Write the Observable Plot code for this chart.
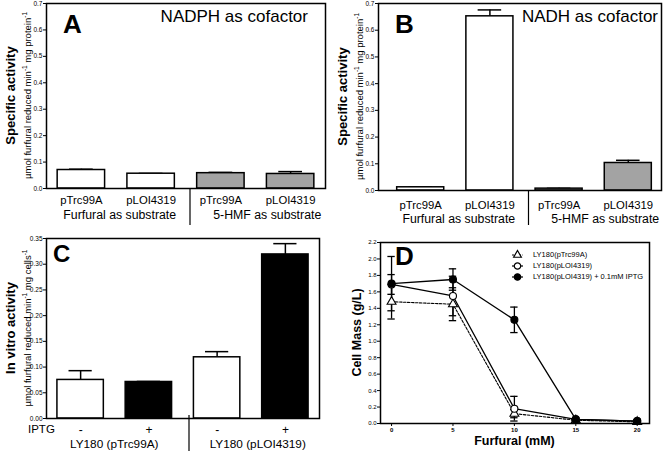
<!DOCTYPE html>
<html><head><meta charset="utf-8">
<script src="https://cdn.jsdelivr.net/npm/d3@7"></script>
<script src="https://cdn.jsdelivr.net/npm/@observablehq/plot@0.6"></script>
<style>
body{margin:0;background:#fff;}
#wrap{position:relative;width:664px;height:451px;overflow:hidden;background:#fff;}
.panel{position:absolute;}
.panel svg{overflow:visible;display:block;}
</style></head><body><div id="wrap"></div>
<script>
const FONT = '"Liberation Sans", Arial, Helvetica, sans-serif';

// ---------- Panels A & B ----------
const abCategories = ["pTrc99A", "pLOI4319", "pTrc99A", "pLOI4319"];
const abSubstrate = ["Furfural", "Furfural", "5-HMF", "5-HMF"];
const abGroupLabels = ["Furfural as substrate", "5-HMF as substrate"];
const abYTicks = [0, 0.1, 0.2, 0.3, 0.4, 0.5, 0.6, 0.7];
const aValues = [0.070, 0.056, 0.058, 0.055];
const aErrors = [0.003, 0.001, 0.003, 0.009];
const bValues = [0.012, 0.652, 0.007, 0.103];
const bErrors = [0.001, 0.024, 0.001, 0.010];
const aCofactor = "NADPH as cofactor";
const bCofactor = "NADH as cofactor";

// ---------- Panel C ----------
const cIPTG = ["-", "+", "-", "+"];
const cGroupLabels = ["LY180 (pTrc99A)", "LY180 (pLOI4319)"];
const cYTicks = [0, 0.05, 0.10, 0.15, 0.20, 0.25, 0.30, 0.35];
const cValues = [0.075, 0.071, 0.119, 0.319];
const cErrors = [0.018, 0.001, 0.011, 0.021];

// ---------- Panel D ----------
const dFurfural = [0, 5, 10, 15, 20];
const dSeries = ["LY180(pTrc99A)", "LY180(pLOI4319)", "LY180(pLOI4319) + 0.1mM IPTG"];
const dTrcMean = [1.48, 1.45, 0.12, 0.04, 0.02];
const dTrcErr  = [0.21, 0.20, 0.05, 0.01, 0.01];
const dLoiMean = [1.69, 1.55, 0.18, 0.05, 0.03];
const dLoiErr  = [0.12, 0.24, 0.15, 0.01, 0.01];
const dIptgMean = [1.70, 1.75, 1.26, 0.05, 0.03];
const dIptgErr  = [0.33, 0.13, 0.155, 0.01, 0.01];
const dYTicks = [0, 0.2, 0.4, 0.6, 0.8, 1.0, 1.2, 1.4, 1.6, 1.8, 2.0, 2.2];

const wrap = document.getElementById("wrap");
function place(node, left, top) {
  const div = document.createElement("div");
  div.className = "panel";
  div.style.left = left + "px";
  div.style.top = top + "px";
  div.appendChild(node);
  wrap.appendChild(div);
}
function txt(sel, x, y, s, o = {}) {
  const t = sel.append("text")
    .attr("x", x).attr("y", y)
    .attr("font-family", FONT)
    .attr("font-size", o.size || 12)
    .attr("font-weight", o.weight || "normal")
    .attr("text-anchor", o.anchor || "start")
    .attr("fill", "black");
  if (o.baseline) t.attr("dominant-baseline", o.baseline);
  t.text(s);
  return t;
}
function yTitle(svg, cy, bx, sx, bold, parts, boldSize) {
  const g = svg.append("g").attr("transform", `translate(${bx},${cy}) rotate(-90)`);
  txt(g, 0, 0, bold, {size: boldSize || 13, weight: "bold", anchor: "middle"});
  if (parts) {
    const g2 = svg.append("g").attr("transform", `translate(${sx},${cy}) rotate(-90)`);
    const t = g2.append("text").attr("text-anchor", "middle").attr("font-family", FONT)
      .attr("font-size", 9.5).attr("fill", "black");
    parts.forEach(p => {
      if (p.sup) t.append("tspan").attr("font-size", 6.5).attr("dy", -4).text(p.t);
      else t.append("tspan").attr("dy", p.after ? 4 : 0).text(p.t);
    });
  }
}

function barPanel(o) {
  const data = o.values.map((v, i) => ({i, v, e: o.errors[i]}));
  const half = 0.34, cap = 0.17;
  return Plot.plot({
    width: 332, height: o.height,
    marginLeft: o.m[3], marginRight: o.m[1], marginTop: o.m[0], marginBottom: o.m[2],
    style: {fontFamily: FONT, background: "transparent", overflow: "visible", color: "black"},
    x: {domain: o.xDomain},
    y: {domain: o.yDomain},
    marks: [
      Plot.ruleX(data, {x: "i", y1: "v", y2: d => d.v + d.e, stroke: "black", strokeWidth: 1.5}),
      Plot.ruleY(data, {y: d => d.v + d.e, x1: d => d.i - cap, x2: d => d.i + cap, stroke: "black", strokeWidth: 1.5}),
      Plot.rect(data, {x1: d => d.i - half, x2: d => d.i + half, y1: 0, y2: "v",
        fill: d => o.fillOf(d.i), stroke: "black", strokeWidth: 1.5}),
      Plot.axisY({ticks: o.yTicks, tickFormat: d3.format(o.yFmt), tickSize: 3, tickPadding: 1, fontSize: 6.5, label: null}),
      Plot.axisX({ticks: o.labels.map((_, i) => i), tickFormat: i => o.labels[i], tickSize: 0,
        tickPadding: o.xPad, fontSize: o.xFont, label: null}),
      Plot.frame({stroke: "black", strokeWidth: 1.5})
    ]
  });
}

const abFill = i => abSubstrate[i] === "Furfural" ? "white" : "#a3a3a3";
const specParts = [{t: "µmol furfural reduced min"}, {t: "-1", sup: true}, {t: " mg protein", after: true}, {t: "-1", sup: true}];

function abDecorate(plot, letter, cofactor, cofX, sepOffset, grpY) {
  const svg = d3.select(plot);
  const sx = plot.scale("x"), sy = plot.scale("y");
  const yr = sy.range;
  yTitle(svg, (yr[0] + yr[1]) / 2, 15, 31, "Specific activity", specParts);
  txt(svg, 63, 33, letter, {size: 26, weight: "bold"});
  txt(svg, cofX, 22, cofactor, {size: 17, anchor: "end"});
  const xs = sx.apply(1.5) + sepOffset;
  svg.append("line").attr("x1", xs).attr("x2", xs).attr("y1", yr[0]).attr("y2", 225)
    .attr("stroke", "black").attr("stroke-width", 1.2);
  txt(svg, sx.apply(0.5) + 4, grpY, abGroupLabels[0], {size: 12.3, anchor: "middle"});
  txt(svg, sx.apply(2.5) + 12, grpY, abGroupLabels[1], {size: 12.3, anchor: "middle"});
}

// Panel A
const pA = barPanel({values: aValues, errors: aErrors, labels: abCategories, fillOf: abFill,
  xDomain: [-0.5, 3.5], yDomain: [0, 0.7], yTicks: abYTicks, yFmt: ".1f",
  height: 225, m: [3, 7, 37, 46], xPad: 7, xFont: 11.3});
abDecorate(pA, "A", aCofactor, 308, 4.5, 219);
place(pA, 0, 0);

// Panel B
const pB = barPanel({values: bValues, errors: bErrors, labels: abCategories, fillOf: abFill,
  xDomain: [-0.61, 3.48], yDomain: [0, 0.7], yTicks: abYTicks, yFmt: ".1f",
  height: 225, m: [3, 3, 35, 46], xPad: 10, xFont: 11.3});
abDecorate(pB, "B", bCofactor, 326, 4.5, 223);
place(pB, 332, 0);

// Panel C
const cFill = i => cIPTG[i] === "-" ? "white" : "black";
const pC = barPanel({values: cValues, errors: cErrors, labels: cIPTG, fillOf: cFill,
  xDomain: [-0.5, 3.5], yDomain: [0, 0.35], yTicks: cYTicks, yFmt: ".2f",
  height: 226, m: [13, 13, 33, 46], xPad: 6.5, xFont: 12});
{
  const svg = d3.select(pC);
  const sx = pC.scale("x"), sy = pC.scale("y");
  const yr = sy.range;
  yTitle(svg, (yr[0] + yr[1]) / 2, 15, 31, "In vitro activity",
    [{t: "µmol furfural reduced min"}, {t: "-1", sup: true}, {t: " mg cells", after: true}, {t: "-1", sup: true}]);
  txt(svg, 53, 37, "C", {size: 24, weight: "bold"});
  txt(svg, 28, 208, "IPTG", {size: 11.5});
  const xs = sx.apply(1.5) + 6.5;
  svg.append("line").attr("x1", xs).attr("x2", xs).attr("y1", yr[0] - 3).attr("y2", 226)
    .attr("stroke", "black").attr("stroke-width", 1.2);
  txt(svg, sx.apply(0.5), 223, cGroupLabels[0], {size: 11.8, anchor: "middle"});
  txt(svg, sx.apply(2.5) + 7, 223, cGroupLabels[1], {size: 11.8, anchor: "middle"});
}
place(pC, 0, 225);

// Panel D
const dMeans = [dTrcMean, dLoiMean, dIptgMean];
const dErrs = [dTrcErr, dLoiErr, dIptgErr];
const dData = dSeries.flatMap((s, k) => dFurfural.map((x, j) => ({s, k, x, m: dMeans[k][j], e: dErrs[k][j]})));
const ser = k => dData.filter(d => d.k === k);
const capD = 0.3;
const pD = Plot.plot({
  width: 332, height: 226, marginLeft: 48, marginRight: 15, marginTop: 17, marginBottom: 28,
  style: {fontFamily: FONT, background: "transparent", overflow: "visible", color: "black"},
  x: {domain: [-0.9, 21]},
  y: {domain: [0, 2.2]},
  marks: [
    Plot.line(ser(0), {x: "x", y: "m", stroke: "black", strokeWidth: 1.1, strokeDasharray: "2.5,1.5"}),
    Plot.line(ser(1), {x: "x", y: "m", stroke: "black", strokeWidth: 1.3}),
    Plot.line(ser(2), {x: "x", y: "m", stroke: "black", strokeWidth: 1.3}),
    Plot.ruleX(dData, {x: "x", y1: d => d.m - d.e, y2: d => d.m + d.e, stroke: "black", strokeWidth: 1.3}),
    Plot.ruleY(dData, {y: d => d.m - d.e, x1: d => d.x - capD, x2: d => d.x + capD, stroke: "black", strokeWidth: 1.3}),
    Plot.ruleY(dData, {y: d => d.m + d.e, x1: d => d.x - capD, x2: d => d.x + capD, stroke: "black", strokeWidth: 1.3}),
    Plot.dot(ser(0), {x: "x", y: "m", symbol: "triangle", r: 3.3, fill: "white", stroke: "black", strokeWidth: 1.1}),
    Plot.dot(ser(1), {x: "x", y: "m", symbol: "circle", r: 3.5, fill: "white", stroke: "black", strokeWidth: 1.1}),
    Plot.dot(ser(2), {x: "x", y: "m", symbol: "circle", r: 3.5, fill: "black", stroke: "black", strokeWidth: 1.1}),
    Plot.axisY({ticks: dYTicks, tickFormat: d3.format(".1f"), tickSize: 3, tickPadding: 1, fontSize: 6, label: null}),
    Plot.axisX({ticks: dFurfural, tickSize: 3, tickPadding: 1, fontSize: 6, fontWeight: "bold", label: null}),
    Plot.frame({stroke: "black", strokeWidth: 1.5})
  ]
});
{
  const svg = d3.select(pD);
  const sy = pD.scale("y"), sx = pD.scale("x");
  const yr = sy.range, xr = sx.range;
  yTitle(svg, (yr[0] + yr[1]) / 2, 29, null, "Cell Mass (g/L)", null, 12.5);
  txt(svg, (xr[0] + xr[1]) / 2, 219.5, "Furfural (mM)", {size: 12.5, weight: "bold", anchor: "middle"});
  txt(svg, 63, 40, "D", {size: 26, weight: "bold"});
  const lg = svg.append("g");
  const symTypes = [d3.symbolTriangle, d3.symbolCircle, d3.symbolCircle];
  const symFill = ["white", "white", "black"];
  dSeries.forEach((name, k) => {
    const y = 30 + k * 11;
    lg.append("line").attr("x1", 180).attr("x2", 191).attr("y1", y).attr("y2", y)
      .attr("stroke", "black").attr("stroke-width", 1.2)
      .attr("stroke-dasharray", k === 0 ? "2,1.5" : null);
    lg.append("path").attr("d", d3.symbol(symTypes[k], k === 0 ? 26 : 32)())
      .attr("transform", `translate(185.5,${y})`)
      .attr("fill", symFill[k]).attr("stroke", "black").attr("stroke-width", 1.2);
    txt(lg, 201, y, name, {size: 7.5, baseline: "middle"});
  });
}
place(pD, 332, 225);
</script></body></html>
